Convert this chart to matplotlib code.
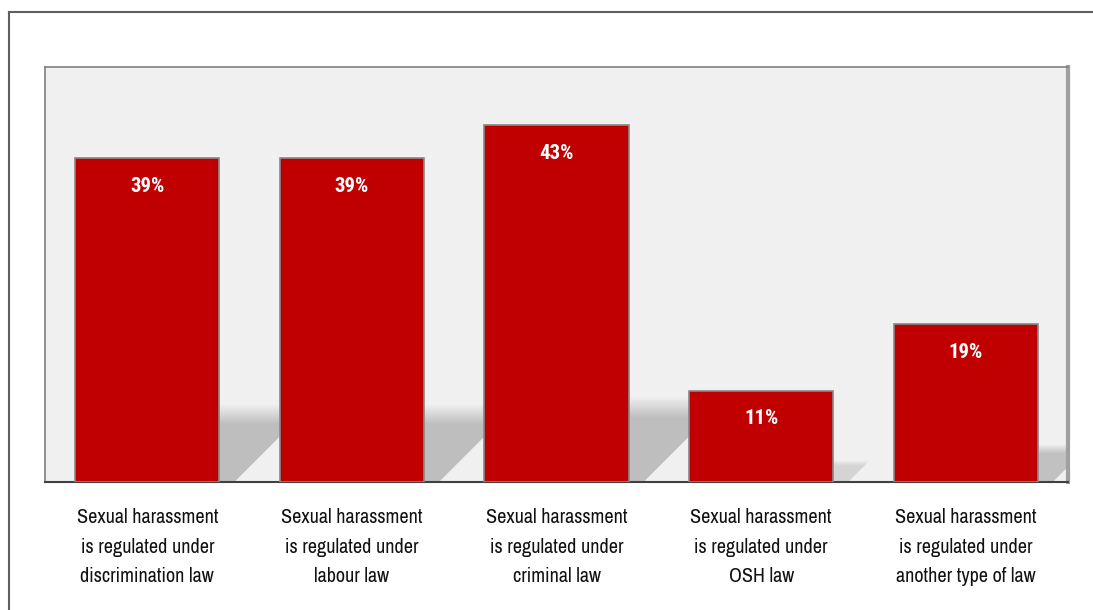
import matplotlib
matplotlib.use('Agg')
import matplotlib.pyplot as plt
import matplotlib.patches as mpatches
from matplotlib.lines import Line2D
import numpy as np

categories = [
    'Sexual harassment\nis regulated under\ndiscrimination law',
    'Sexual harassment\nis regulated under\nlabour law',
    'Sexual harassment\nis regulated under\ncriminal law',
    'Sexual harassment\nis regulated under\nOSH law',
    'Sexual harassment\nis regulated under\nanother type of law',
]
values = [39, 39, 43, 11, 19]
value_labels = ['39%', '39%', '43%', '11%', '19%']

plt.rcParams['font.family'] = ['Archivo Narrow', 'DejaVu Sans']
BOLD_FONT = ['Roboto Condensed', 'DejaVu Sans']

W, H = 1093, 610
fig = plt.figure(figsize=(W / 100, H / 100), dpi=100)
ax = fig.add_axes([45 / W, (H - 482) / H, (1068 - 45) / W, (482 - 67) / H])
ax.set_facecolor('#f0f0f0')
ax.set_xlim(-0.5, 4.5)
ax.set_ylim(0, 50)

x = np.arange(len(values))
bw = 0.704
px_x = 1 / 204.6    # data units per pixel, x
px_y = 50 / 415     # data units per pixel, y

# soft floor shadows behind the bars
for xi, v in zip(x, values):
    hs = 0.24 * v
    d = 15 * px_x
    shear = (hs / px_y) * px_x
    left, right = xi - bw / 2, xi + bw / 2
    verts = [(left + d, 0), (right + d, 0), (right + d + shear, hs), (left + d + shear, hs)]
    poly = mpatches.Polygon(verts, closed=True, facecolor='none', edgecolor='none')
    ax.add_patch(poly)
    n = 100
    alpha = np.clip(np.linspace(0, 1, n) / 0.25, 0, 1)  # fade at top
    img = np.zeros((n, 2, 4))
    img[..., :3] = 0.74
    img[..., 3] = alpha[:, None] * 0.95 * min(1, v / 20)
    im = ax.imshow(img, extent=(left + d, right + d + shear, 0, hs), origin='upper',
                   aspect='auto', interpolation='bilinear', zorder=1)
    im.set_clip_path(poly)

bars = ax.bar(x, values, bw, color='#c00000', edgecolor='#888888', linewidth=1.2, zorder=3)
for xi, v, lab in zip(x, values, value_labels):
    ax.text(xi, v - 28 * px_y, lab, ha='center', va='center', color='white',
            fontsize=15, fontweight='bold', family=BOLD_FONT, zorder=4)

ax.set_xlim(-0.5, 4.5)
ax.set_ylim(0, 50)
ax.set_yticks([])
ax.set_xticks(x)
ax.set_xticklabels(categories, fontsize=14.5, linespacing=1.68, color='#111111')
ax.tick_params(axis='x', length=0, pad=19)
for s in ['left', 'top']:
    ax.spines[s].set_color('#808080')
    ax.spines[s].set_linewidth(1.2)
ax.spines['right'].set_color('#a0a0a0')
ax.spines['right'].set_linewidth(3)
ax.spines['bottom'].set_color('#404040')
ax.spines['bottom'].set_linewidth(1.5)

# outer frame (runs off the right and bottom edges)
fig.add_artist(Line2D([9 / W, 9 / W], [-0.1, (H - 12) / H], color='#606060', lw=1.5,
                      transform=fig.transFigure))
fig.add_artist(Line2D([9 / W, 1.1], [(H - 12) / H, (H - 12) / H], color='#606060', lw=1.5,
                      transform=fig.transFigure))

fig.savefig('out.png', dpi=100)
